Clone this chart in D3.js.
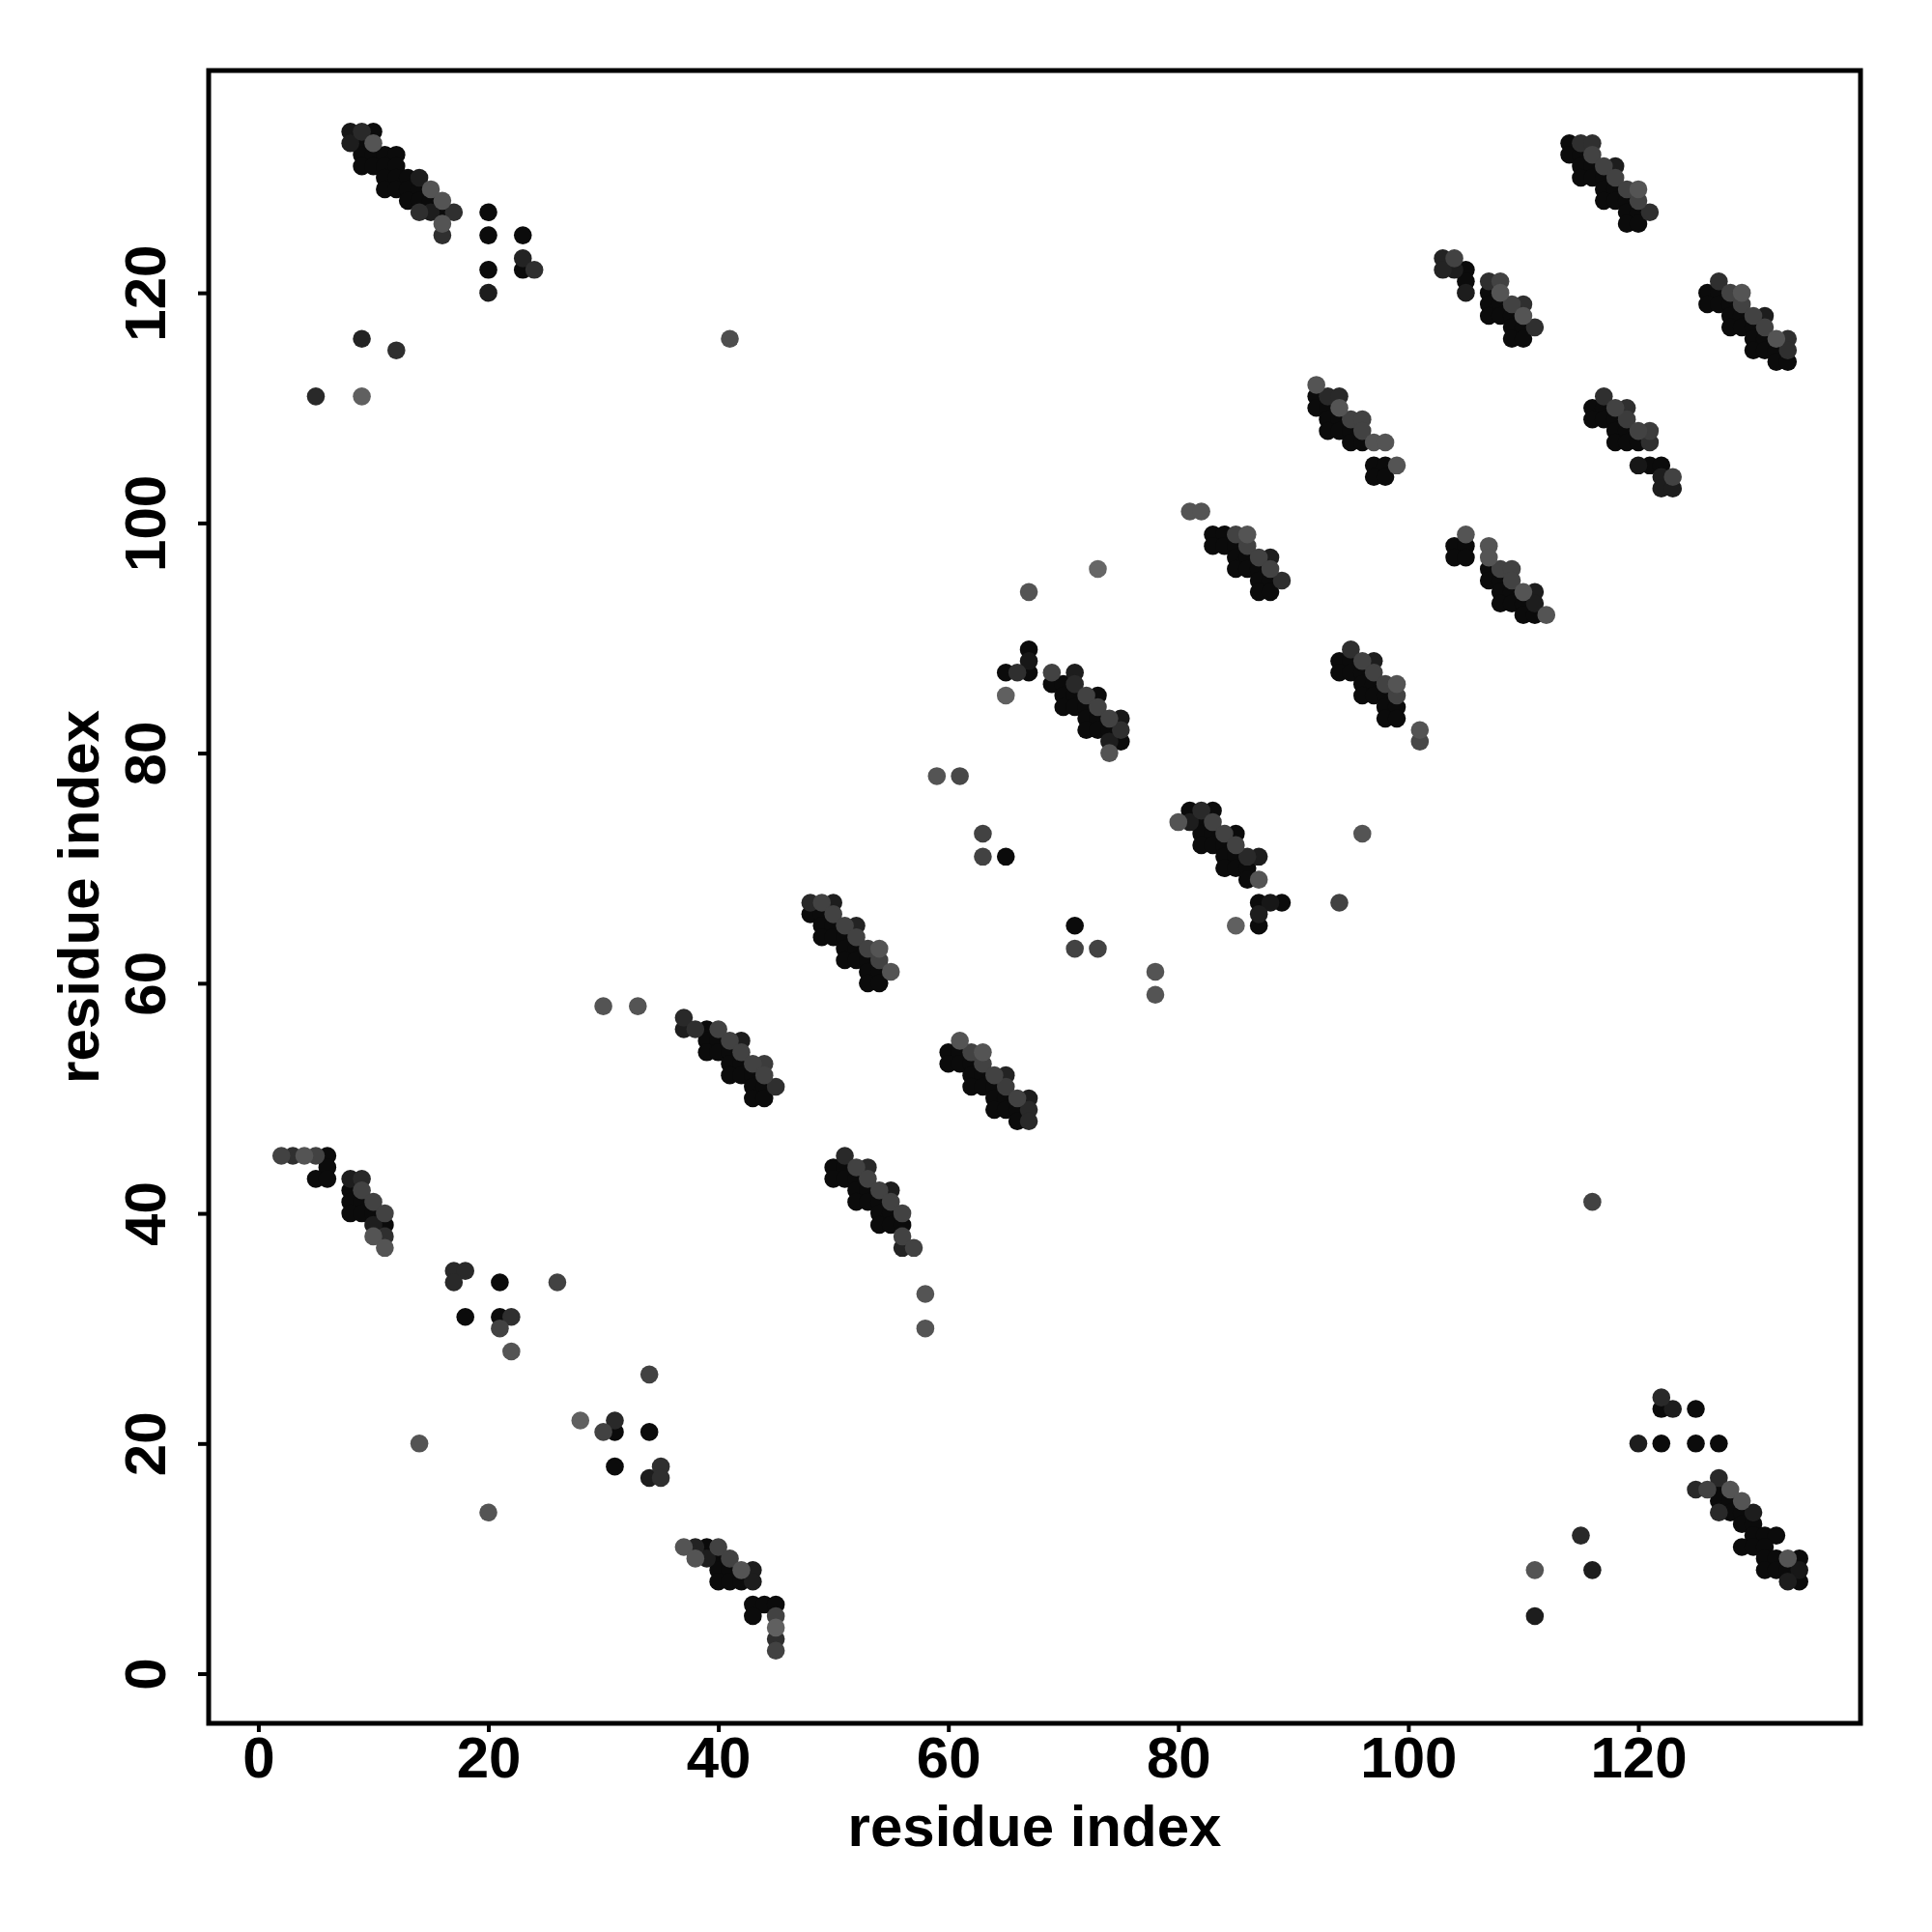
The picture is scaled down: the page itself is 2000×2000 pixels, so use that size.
<!DOCTYPE html>
<html>
<head>
<meta charset="utf-8">
<script src="https://cdn.jsdelivr.net/npm/d3@7"></script>
<style>
  html, body { margin: 0; padding: 0; background: #ffffff; }
  svg { display: block; }
</style>
</head>
<body>
<script>
// ---- data: residue contacts [i, j, score]; score 1 = strongest (black) ----
const xTicks = [0, 20, 40, 60, 80, 100, 120];
const yTicks = [0, 20, 40, 60, 80, 100, 120];
const residueRange = [1, 134];
const axisTitle = "residue index";

const sheet_8_134 = [
  [8,134,0.9],[9,134,0.75],[10,134,1],[8,133,0.85],[9,133,1],[10,133,0.4],
  [9,132,1],[10,132,1],[11,132,1],[12,132,1],[9,131,1],[10,131,1],[11,131,1],[12,131,1],
  [11,130,1],[12,130,1],[13,130,1],[14,130,0.85],[11,129,1],[12,129,1],[13,129,1],[14,129,1],[15,129,0.4],
  [13,128,1],[14,128,1],[15,128,1],[16,128,0.4],[14,127,0.7],[15,127,0.85],[16,127,1],[17,127,0.7],
  [16,126,0.4],[16,125,0.7]
];
const scatter_top_left = [
  [20,127,1],[20,125,1],[23,125,1],[23,123,0.8],[23,122,1],[24,122,0.7],[20,122,1],[20,120,0.85],
  [9,116,0.8],[12,115,0.7],[5,111,0.75],[9,111,0.3],[41,116,0.45]
];
const sheet_103_123 = [
  [103,123,0.8],[104,123,0.55],[103,122,0.8],[104,122,0.85],[105,122,1],[105,121,1],[105,120,0.85],
  [107,121,0.7],[108,121,0.55],[107,120,1],[108,120,0.4],[107,119,1],[108,119,1],[109,119,0.55],[110,119,0.7],
  [107,118,1],[108,118,1],[109,118,1],[110,118,0.4],[109,117,1],[110,117,1],[111,117,0.7],[109,116,1],[110,116,1]
];
const sheet_92_112 = [
  [92,112,0.4],[92,111,1],[93,111,0.75],[94,111,0.75],[92,110,1],[93,110,1],[94,110,0.4],
  [93,109,1],[94,109,1],[95,109,0.55],[96,109,0.55],[93,108,1],[94,108,1],[95,108,1],[96,108,0.55],
  [95,107,1],[96,107,1],[97,107,0.4],[98,107,0.4],[97,105,1],[98,105,1],[99,105,0.4],[97,104,1],[98,104,1]
];
const sheet_81_101 = [
  [81,101,0.4],[82,101,0.4],[83,99,1],[84,99,1],[85,99,0.55],[86,99,0.4],[83,98,1],[84,98,1],[85,98,1],[86,98,0.55],
  [85,97,1],[86,97,1],[87,97,0.55],[88,97,0.85],[85,96,1],[86,96,1],[87,96,1],[88,96,0.55],
  [87,95,1],[88,95,1],[89,95,0.7],[87,94,1],[88,94,1]
];
const sheet_104_99 = [
  [105,99,0.4],[104,98,1],[105,98,1],[104,97,1],[105,97,1],[107,98,0.4],[107,97,0.4],
  [107,96,1],[108,96,0.55],[109,96,0.55],[107,95,1],[108,95,1],[109,95,0.55],
  [108,94,1],[109,94,1],[110,94,0.4],[111,94,0.85],[108,93,1],[109,93,1],[110,93,1],[111,93,0.85],
  [110,92,1],[111,92,1],[112,92,0.4]
];
const sheet_114_133 = [
  [114,133,1],[115,133,0.7],[116,133,0.7],[114,132,1],[115,132,1],[116,132,0.55],
  [115,131,1],[116,131,1],[117,131,0.55],[118,131,0.85],[115,130,1],[116,130,1],[117,130,1],[118,130,0.55],
  [117,129,1],[118,129,1],[119,129,0.55],[120,129,0.4],[117,128,1],[118,128,1],[119,128,1],[120,128,0.55],
  [119,127,1],[120,127,1],[121,127,0.7],[119,126,1],[120,126,1]
];
const sheet_126_121 = [
  [127,121,0.7],[126,120,1],[127,120,1],[128,120,0.55],[129,120,0.4],[126,119,1],[127,119,1],[128,119,1],[129,119,0.55],
  [128,118,1],[129,118,1],[130,118,0.55],[131,118,0.85],[128,117,1],[129,117,1],[130,117,1],[131,117,0.55],
  [130,116,1],[131,116,1],[132,116,0.4],[133,116,0.7],[130,115,1],[131,115,1],[132,115,1],[133,115,0.7],
  [132,114,1],[133,114,1]
];
const sheet_116_111 = [
  [117,111,0.7],[116,110,1],[117,110,1],[118,110,0.55],[119,110,0.7],[116,109,1],[117,109,1],[118,109,1],[119,109,0.6],
  [118,108,1],[119,108,1],[120,108,0.55],[121,108,0.6],[118,107,1],[119,107,1],[120,107,1],[121,107,0.7],
  [120,105,0.9],[121,105,1],[122,105,1],[122,104,0.85],[123,104,0.55],[122,103,0.85],[123,103,0.85]
];
const scatter_middle = [
  [73,96,0.25],[67,94,0.4],[67,89,1],[67,88,0.9],[67,87,1],[65,87,1],[66,87,0.7],[65,85,0.3],
  [59,78,0.4],[61,78,0.5],[63,73,0.55],[63,71,0.55],[65,71,1],[71,65,1],[71,63,0.55],[73,63,0.55],
  [78,61,0.4],[78,59,0.4],[101,82,0.4],[101,81,0.5],[96,73,0.4],[94,67,0.55],[30,58,0.4],[33,58,0.4],
  [58,33,0.4],[58,30,0.4]
];
const sheet_69_87 = [
  [69,87,0.55],[71,87,0.85],[69,86,1],[70,86,1],[71,86,0.75],[70,85,1],[71,85,1],[72,85,0.55],[73,85,1],
  [70,84,1],[71,84,1],[72,84,1],[73,84,0.55],[72,83,1],[73,83,1],[74,83,0.55],[75,83,0.9],
  [72,82,1],[73,82,1],[74,82,1],[75,82,0.7],[74,81,0.85],[75,81,1],[74,80,0.4]
];
const sheet_94_89 = [
  [95,89,0.7],[94,88,1],[95,88,1],[96,88,0.55],[97,88,0.85],[94,87,1],[95,87,1],[96,87,1],[97,87,0.55],
  [96,86,1],[97,86,1],[98,86,0.55],[99,86,0.4],[96,85,1],[97,85,1],[98,85,1],[99,85,0.55],
  [98,84,1],[99,84,1],[98,83,1],[99,83,1]
];
const sheet_80_75 = [
  [80,74,0.4],[81,75,1],[82,75,0.75],[83,75,1],[81,74,0.85],[82,74,1],[83,74,0.55],
  [82,73,1],[83,73,1],[84,73,0.55],[85,73,1],[82,72,1],[83,72,1],[84,72,1],[85,72,0.55],
  [84,71,1],[85,71,1],[86,71,0.75],[87,71,0.85],[84,70,1],[85,70,1],[86,70,1],[86,69,1],[87,69,0.4],
  [87,67,1],[88,67,0.9],[89,67,1],[87,66,0.85],[87,65,1],[85,65,0.3]
];
const sheet_48_67 = [
  [48,67,0.75],[49,67,0.55],[50,67,0.85],[48,66,1],[49,66,1],[50,66,0.55],[49,65,1],[50,65,1],[51,65,0.55],[52,65,0.8],
  [49,64,1],[50,64,1],[51,64,1],[52,64,0.55],[51,63,1],[52,63,1],[53,63,0.55],[54,63,0.4],
  [51,62,1],[52,62,1],[53,62,1],[54,62,0.55],[53,61,1],[54,61,1],[55,61,0.4],[53,60,1],[54,60,1]
];
const sheet_37_57 = [
  [37,57,0.75],[37,56,0.85],[38,56,0.7],[39,56,1],[40,56,0.55],[39,55,1],[40,55,1],[41,55,0.55],[42,55,0.85],
  [39,54,1],[40,54,1],[41,54,1],[42,54,0.55],[41,53,1],[42,53,1],[43,53,0.55],[44,53,0.6],
  [41,52,1],[42,52,1],[43,52,1],[44,52,0.55],[43,51,1],[44,51,1],[45,51,0.7],[43,50,1],[44,50,1]
];
const sheet_60_55 = [
  [61,55,0.4],[60,54,1],[61,54,1],[62,54,0.55],[63,54,0.4],[60,53,1],[61,53,1],[62,53,1],[63,53,0.55],
  [62,52,1],[63,52,1],[64,52,0.55],[65,52,0.8],[62,51,1],[63,51,1],[64,51,1],[65,51,0.6],
  [64,50,1],[65,50,1],[66,50,0.55],[67,50,0.85],[64,49,1],[65,49,1],[66,49,1],[67,49,0.75],[66,48,1],[67,48,0.75]
];
const sheet_50_45 = [
  [51,45,0.75],[50,44,1],[51,44,1],[52,44,0.55],[53,44,0.75],[50,43,1],[51,43,1],[52,43,1],[53,43,0.55],
  [52,42,1],[53,42,1],[54,42,0.55],[55,42,0.85],[52,41,1],[53,41,1],[54,41,1],[55,41,0.55],
  [54,40,1],[55,40,1],[56,40,0.55],[54,39,1],[55,39,1],[56,39,1],[56,38,0.55],[56,37,0.8],[57,37,0.55]
];
const sheet_2_45 = [
  [2,45,0.55],[3,45,0.7],[4,45,0.4],[5,45,0.55],[6,45,1],[6,44,1],[5,43,1],[6,43,1],
  [8,43,0.85],[9,43,0.75],[8,42,1],[9,42,0.55],[8,41,1],[9,41,1],[10,41,0.55],
  [8,40,1],[9,40,1],[10,40,1],[11,40,0.55],[10,39,0.85],[11,39,1],[10,38,0.4],[11,38,0.7],[11,37,0.4]
];
const scatter_low_left = [
  [17,35,0.75],[18,35,0.75],[17,34,0.75],[21,34,1],[26,34,0.55],[18,31,1],[21,31,1],[22,31,0.7],[21,30,0.55],
  [22,28,0.4],[34,26,0.55],[28,22,0.3],[31,22,0.75],[30,21,0.55],[31,21,1],[34,21,1],[14,20,0.4],
  [31,18,1],[35,18,0.7],[34,17,0.85],[35,17,0.7],[20,14,0.4]
];
const sheet_37_11 = [
  [37,11,0.4],[38,11,0.8],[39,11,1],[40,11,0.55],[38,10,0.4],[39,10,0.85],[40,10,1],[41,10,0.55],
  [40,9,1],[41,9,1],[42,9,0.4],[43,9,0.85],[40,8,1],[41,8,1],[42,8,1],[43,8,0.85],
  [43,6,1],[44,6,1],[45,6,1],[43,5,1],[45,5,0.55],[45,4,0.3],[45,3,0.7],[45,2,0.55]
];
const scatter_low_right = [
  [116,41,0.55],[122,24,0.75],[122,23,1],[123,23,0.85],[125,23,1],[120,20,0.85],[122,20,1],[125,20,1],[127,20,1],
  [115,12,0.75],[111,9,0.4],[116,9,0.85],[111,5,0.85]
];
const sheet_125_17 = [
  [127,17,0.75],[125,16,0.75],[126,16,0.55],[127,16,1],[128,16,0.4],[127,15,1],[128,15,1],[129,15,0.4],
  [127,14,0.75],[128,14,1],[129,14,1],[130,14,0.85],[129,13,1],[130,13,1],
  [130,12,1],[131,12,1],[132,12,1],[129,11,1],[130,11,1],[131,11,1],
  [131,10,1],[132,10,1],[133,10,0.4],[134,10,1],[131,9,1],[132,9,1],[133,9,1],[134,9,0.9],[133,8,0.85],[134,8,1]
];

const contacts = [].concat(
  sheet_8_134, scatter_top_left, sheet_103_123, sheet_92_112, sheet_81_101, sheet_104_99,
  sheet_114_133, sheet_126_121, sheet_116_111, scatter_middle, sheet_69_87, sheet_94_89,
  sheet_80_75, sheet_48_67, sheet_37_57, sheet_60_55, sheet_50_45, sheet_2_45,
  scatter_low_left, sheet_37_11, scatter_low_right, sheet_125_17
).map(d => ({ i: d[0], j: d[1], s: d[2] }));

// ---- layout ----
const W = 2000, H = 2000;
const box = { left: 216, right: 1926, top: 73, bottom: 1784 };
const font = "'Liberation Sans', Arial, Helvetica, sans-serif";

const pad = (residueRange[1] - residueRange[0]) * 0.04;
const x = d3.scaleLinear().domain([residueRange[0] - pad, residueRange[1] + pad]).range([box.left, box.right]);
const y = d3.scaleLinear().domain([residueRange[0] - pad, residueRange[1] + pad]).range([box.bottom, box.top]);
const color = d3.scaleLinear().domain([0.25, 1]).range(["#666666", "#0b0b0b"]);

const svg = d3.select("body").append("svg").attr("width", W).attr("height", H);
svg.append("rect").attr("width", W).attr("height", H).attr("fill", "#ffffff");

// points (stronger first so lighter ones sit on top)
const pts = contacts.slice().sort((a, b) => b.s - a.s);
svg.append("g").selectAll("circle").data(pts).join("circle")
  .attr("cx", d => x(d.i))
  .attr("cy", d => y(d.j))
  .attr("r", 9.3)
  .attr("fill", d => color(d.s));

// x axis
const gx = svg.append("g").attr("transform", `translate(0,${box.bottom})`)
  .call(d3.axisBottom(x).tickValues(xTicks).tickSize(9).tickSizeOuter(0).tickPadding(4).tickFormat(d3.format("d")));
gx.select(".domain").remove();
gx.selectAll(".tick line").attr("stroke", "#000").attr("stroke-width", 4);
gx.selectAll(".tick text").attr("font-family", font).attr("font-weight", "bold")
  .attr("font-size", 60).attr("fill", "#000");

// y axis
const gy = svg.append("g").attr("transform", `translate(${box.left},0)`)
  .call(d3.axisLeft(y).tickValues(yTicks).tickSize(11).tickSizeOuter(0).tickFormat(d3.format("d")));
gy.select(".domain").remove();
gy.selectAll(".tick line").attr("stroke", "#000").attr("stroke-width", 4);
gy.selectAll(".tick text")
  .attr("x", null).attr("dy", null).attr("y", null)
  .attr("text-anchor", "middle")
  .attr("transform", "translate(-45,0) rotate(-90)")
  .attr("font-family", font).attr("font-weight", "bold")
  .attr("font-size", 60).attr("fill", "#000");

// frame
svg.append("rect")
  .attr("x", box.left).attr("y", box.top)
  .attr("width", box.right - box.left).attr("height", box.bottom - box.top)
  .attr("fill", "none").attr("stroke", "#000").attr("stroke-width", 5);

// titles
svg.append("text")
  .attr("x", (box.left + box.right) / 2).attr("y", 1911)
  .attr("text-anchor", "middle")
  .attr("font-family", font).attr("font-weight", "bold").attr("font-size", 60)
  .text(axisTitle);
svg.append("text")
  .attr("transform", `translate(102,${(box.top + box.bottom) / 2}) rotate(-90)`)
  .attr("text-anchor", "middle")
  .attr("font-family", font).attr("font-weight", "bold").attr("font-size", 60)
  .text(axisTitle);
</script>
</body>
</html>
